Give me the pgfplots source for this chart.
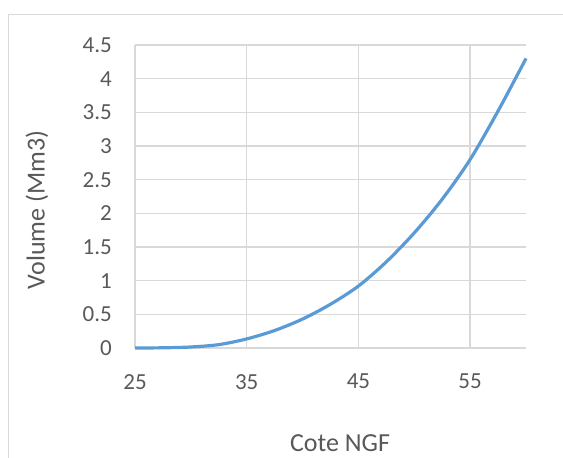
\documentclass[border=0pt]{standalone}
\usepackage{fontspec}
\setmainfont{Carlito}
\usepackage{pgfplots}
\pgfplotsset{compat=1.18}
\definecolor{gridc}{HTML}{D9D9D9}
\definecolor{txt}{HTML}{595959}
\definecolor{serie}{HTML}{5B9BD5}
\begin{document}
\begin{tikzpicture}[x=1pt,y=1pt]
\useasboundingbox (0,0) rectangle (563,458);
\draw[gridc, line width=1.2pt] (8.5,0) -- (8.5,443.5) -- (563,443.5);
\begin{axis}[
  at={(135pt,110pt)}, anchor=south west,
  scale only axis, width=391pt, height=303pt,
  xmin=25, xmax=60, ymin=0, ymax=4.5,
  xtick={25,35,45,55}, xticklabels={25,35,45,55},
  ytick={0,0.5,1,1.5,2,2.5,3,3.5,4,4.5},
  yticklabels={0,0.5,1,1.5,2,2.5,3,3.5,4,4.5},
  axis x line=bottom, axis y line=left,
  axis line style={gridc, line width=1.3pt, -},
  grid=major, major grid style={gridc, line width=1.3pt},
  major tick length=0pt,
  tick label style={font=\fontsize{23}{26}\selectfont, text=txt, inner sep=0pt},
  yticklabel style={anchor=east, xshift=-23pt},
  xticklabel style={anchor=north, yshift=-26pt},
  clip=false,
]
\addplot[serie, line width=3.2pt, smooth, tension=0.5] coordinates {
 (25,0) (27.5,0.003) (30,0.015) (32.5,0.05) (35,0.135) (37.5,0.26) (40,0.43)
 (42.5,0.65) (45,0.92) (47.5,1.28) (50,1.71) (52.5,2.21) (55,2.80) (57.5,3.52) (60,4.30)
};
\end{axis}
\node[text=txt, font=\fontsize{26}{30}\selectfont, rotate=90] at (37,248) {Volume (Mm3)};
\node[text=txt, font=\fontsize{26}{30}\selectfont] at (340,15) {Cote NGF};
\end{tikzpicture}
\end{document}
